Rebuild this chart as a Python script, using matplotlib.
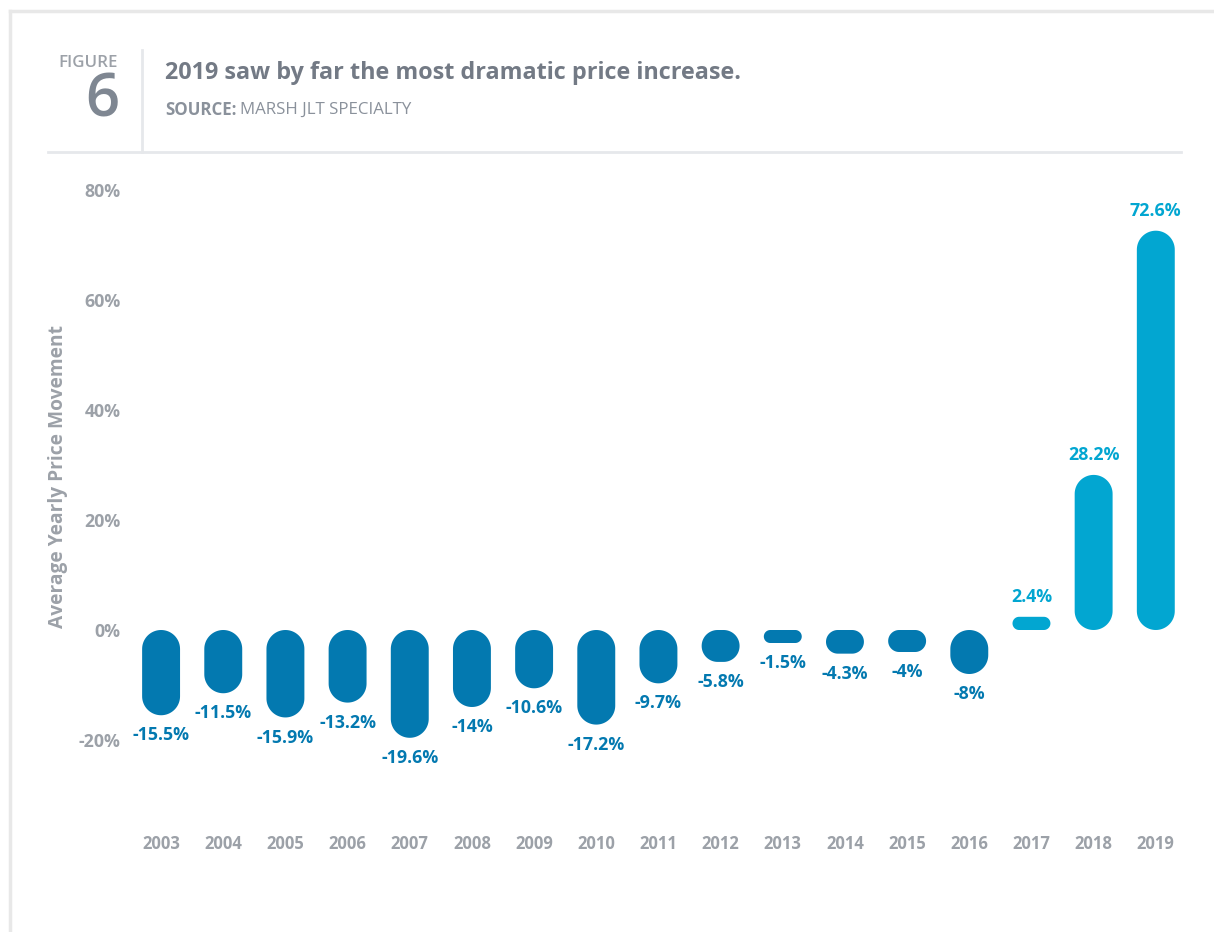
import matplotlib
matplotlib.use("Agg")
import numpy as np
import matplotlib.pyplot as plt
from matplotlib import font_manager as fm
from matplotlib.patches import Polygon
from matplotlib.lines import Line2D

years = ["2003", "2004", "2005", "2006", "2007", "2008", "2009", "2010", "2011",
         "2012", "2013", "2014", "2015", "2016", "2017", "2018", "2019"]
values = [-15.5, -11.5, -15.9, -13.2, -19.6, -14.0, -10.6, -17.2, -9.7,
          -5.8, -1.5, -4.3, -4.0, -8.0, 2.4, 28.2, 72.6]
labels = ["-15.5%", "-11.5%", "-15.9%", "-13.2%", "-19.6%", "-14%", "-10.6%", "-17.2%", "-9.7%",
          "-5.8%", "-1.5%", "-4.3%", "-4%", "-8%", "2.4%", "28.2%", "72.6%"]
yticks = [-20, 0, 20, 40, 60, 80]
ytick_labels = ["-20%", "0%", "20%", "40%", "60%", "80%"]

title = "2019 saw by far the most dramatic price increase."
source_bold = "SOURCE:"
source_rest = "MARSH JLT SPECIALTY"
ylabel = "Average Yearly Price Movement"

NEG = "#0379b0"
POS = "#02a6d1"
GRAY = "#9ca1a8"
HDR = "#737a85"
LINE = "#e6e8eb"


def _w(f):
    w = f.weight
    if isinstance(w, str):
        w = fm.weight_dict.get(w, 400)
    return w


def _s(f):
    s = f.stretch
    if isinstance(s, str):
        s = fm.stretch_dict.get(s, 500)
    return s


def find_font(names, weight):
    for n in names:
        c = [f for f in fm.fontManager.ttflist
             if f.name == n and f.style == 'normal' and _s(f) == 500]
        c = [f for f in c if abs(_w(f) - weight) <= 100]
        if c:
            best = min(c, key=lambda f: abs(_w(f) - weight))
            return best.fname
    return None


FAMS = ['Open Sans', 'Lato', 'Roboto', 'Noto Sans', 'Liberation Sans', 'DejaVu Sans']
bold_file = find_font(FAMS, 700)
semi_file = find_font(FAMS, 600) or bold_file
reg_file = find_font(FAMS, 400)


def fp(kind, size):
    f = {'bold': bold_file, 'semi': semi_file, 'reg': reg_file}[kind]
    if f:
        return fm.FontProperties(fname=f, size=size)
    return fm.FontProperties(family='DejaVu Sans', weight='bold' if kind != 'reg' else 'normal', size=size)


W, H = 1214, 932
fig = plt.figure(figsize=(W / 100, H / 100), dpi=100)

ax_left, ax_right = 130, 1190
ax_top, ax_bottom = 179, 811.5
ax = fig.add_axes([ax_left / W, 1 - ax_bottom / H, (ax_right - ax_left) / W, (ax_bottom - ax_top) / H])
xlim = (-0.5, 16.55)
ylim = (-33, 82)
ax.set_xlim(*xlim)
ax.set_ylim(*ylim)

px_per_x = (ax_right - ax_left) / (xlim[1] - xlim[0])
px_per_y = (ax_bottom - ax_top) / (ylim[1] - ylim[0])


def pill(xc, y0, y1, w):
    wpx = w * px_per_x
    hpx = (y1 - y0) * px_per_y
    r = min(wpx / 2, hpx / 2)
    cx0, cx1 = -wpx / 2 + r, wpx / 2 - r
    cy0, cy1 = r, hpx - r
    pts = []
    n = 24
    for (cx, cy, a0) in [(cx1, cy0, -90), (cx1, cy1, 0), (cx0, cy1, 90), (cx0, cy0, 180)]:
        ang = np.radians(np.linspace(a0, a0 + 90, n))
        pts += list(zip(cx + r * np.cos(ang), cy + r * np.sin(ang)))
    pts = np.array(pts)
    return np.column_stack([xc + pts[:, 0] / px_per_x, y0 + pts[:, 1] / px_per_y])


bw = 0.61
min_h = 13 / px_per_y
for i, v in enumerate(values):
    h = max(abs(v), min_h)
    y0, y1 = (0, h) if v >= 0 else (-h, 0)
    col = POS if v >= 0 else NEG
    ax.add_patch(Polygon(pill(i, y0, y1, bw), closed=True, facecolor=col, edgecolor="none"))
    yend = y1 if v >= 0 else y0
    off = 14.5 if v >= 0 else -14.5
    ax.annotate(labels[i], (i, yend), xytext=(0, off), textcoords="offset points",
                ha="center", va="center", fontproperties=fp('bold', 12.8), color=col)

ax.set_xticks(range(len(years)))
ax.set_xticklabels(years, color=GRAY)
for t in ax.get_xticklabels():
    t.set_fontproperties(fp('bold', 12))
ax.set_yticks(yticks)
ax.set_yticklabels(ytick_labels, color=GRAY)
for t in ax.get_yticklabels():
    t.set_fontproperties(fp('bold', 12.8))
ax.tick_params(axis="both", length=0)
ax.tick_params(axis="x", pad=17)
ax.tick_params(axis="y", pad=7)
for s in ax.spines.values():
    s.set_visible(False)


def fx(px):
    return px / W


def fy(py):
    return 1 - py / H


fig.text(fx(58), fy(477), ylabel, rotation=90, ha="center", va="center",
         fontproperties=fp('bold', 13.8), color=GRAY)

fig.add_artist(Line2D([fx(10), fx(1214)], [fy(11), fy(11)], color="#e8e8e8", lw=2.5))
fig.add_artist(Line2D([fx(10), fx(10)], [fy(11), fy(932)], color="#e8e8e8", lw=2.5))
fig.add_artist(Line2D([fx(48), fx(1181)], [fy(152), fy(152)], color=LINE, lw=2))
fig.add_artist(Line2D([fx(142), fx(142)], [fy(50), fy(152)], color=LINE, lw=2))

fig.text(fx(118), fy(63), "FIGURE", ha="right", va="center",
         fontproperties=fp('semi', 12.2), color=GRAY)
fig.text(fx(119), fy(101), "6", ha="right", va="center",
         fontproperties=fp('semi', 43), color="#7f8792")
fig.text(fx(165), fy(73), title, ha="left", va="center",
         fontproperties=fp('bold', 16.8), color=HDR)
t1 = fig.text(fx(165), fy(110), source_bold, ha="left", va="center",
              fontproperties=fp('bold', 12.2), color="#8a919b")
fig.canvas.draw()
bb = t1.get_window_extent()
fig.text(fx(bb.x1 + 3), fy(110), source_rest, ha="left", va="center",
         fontproperties=fp('reg', 12.2), color="#8a919b")

fig.savefig("out.png", dpi=100)
